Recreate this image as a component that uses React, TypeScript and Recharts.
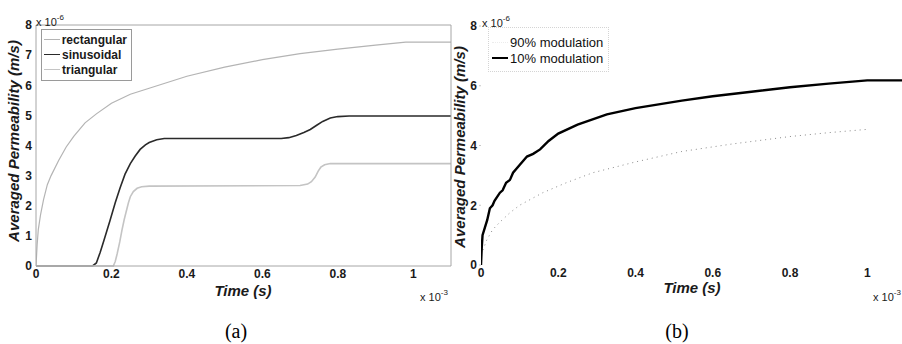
import React from 'react';
import { LineChart, Line, XAxis, YAxis, Legend } from 'recharts';

// panel (a): time in 1e-3 s, permeability in 1e-6 m/s
const rectangularX = [0, 0.003, 0.006, 0.012, 0.02, 0.03, 0.04, 0.06, 0.08, 0.1, 0.13, 0.16, 0.2, 0.25, 0.3, 0.4, 0.5, 0.6, 0.7, 0.8, 0.9, 0.98, 1.1];
const rectangularY = [0, 0.7, 1.2, 1.7, 2.2, 2.7, 3.0, 3.5, 3.95, 4.3, 4.75, 5.05, 5.4, 5.7, 5.9, 6.3, 6.6, 6.85, 7.05, 7.2, 7.33, 7.43, 7.43];

const sinusoidalX = [0, 0.15, 0.16, 0.17, 0.18, 0.196, 0.21, 0.223, 0.236, 0.25, 0.263, 0.276, 0.29, 0.3, 0.32, 0.34, 0.65, 0.67, 0.69, 0.71, 0.727, 0.745, 0.76, 0.78, 0.8, 0.83, 1.1];
const sinusoidalY = [0, 0, 0.1, 0.45, 0.85, 1.5, 2.1, 2.6, 3.05, 3.4, 3.65, 3.87, 4.02, 4.1, 4.19, 4.23, 4.23, 4.26, 4.33, 4.43, 4.53, 4.68, 4.8, 4.91, 4.96, 4.98, 4.98];

const triangularX = [0, 0.205, 0.21, 0.215, 0.222, 0.228, 0.234, 0.239, 0.245, 0.25, 0.258, 0.268, 0.28, 0.3, 0.7, 0.72, 0.73, 0.74, 0.748, 0.755, 0.765, 0.78, 1.1];
const triangularY = [0, 0, 0.15, 0.4, 0.8, 1.2, 1.55, 1.8, 2.1, 2.3, 2.47, 2.58, 2.63, 2.65, 2.67, 2.72, 2.8, 2.95, 3.15, 3.28, 3.36, 3.4, 3.4];

// panel (b)
const mod10X = [0, 0.002, 0.004, 0.01, 0.016, 0.023, 0.03, 0.035, 0.049, 0.056, 0.065, 0.075, 0.083, 0.1, 0.119, 0.135, 0.153, 0.175, 0.2, 0.25, 0.326, 0.4, 0.52, 0.6, 0.7, 0.8, 0.9, 1.0, 1.09];
const mod10Y = [0, 0.6, 1.0, 1.25, 1.5, 1.9, 2.0, 2.15, 2.42, 2.5, 2.75, 2.85, 3.09, 3.35, 3.63, 3.72, 3.87, 4.15, 4.4, 4.7, 5.04, 5.25, 5.5, 5.65, 5.8, 5.95, 6.07, 6.18, 6.18];

const mod90X = [0.005, 0.015, 0.03, 0.05, 0.075, 0.1, 0.16, 0.22, 0.29, 0.4, 0.52, 0.65, 0.8, 0.9, 1.0];
const mod90Y = [0.5, 0.84, 1.18, 1.45, 1.75, 2.0, 2.42, 2.75, 3.09, 3.45, 3.8, 4.05, 4.3, 4.43, 4.54];

const yTicks = [0, 1, 2, 3, 4, 5, 6, 7, 8];
const yTicksB = [0, 2, 4, 6, 8];
const xTicks = [0, 0.2, 0.4, 0.6, 0.8, 1];

const toPoints = (xs: number[], ys: number[]) => xs.map((x, i) => ({ t: x, v: ys[i] }));

const seriesA = [
    { name: 'rectangular', data: toPoints(rectangularX, rectangularY), color: '#b4b4b4', width: 1.2 },
    { name: 'sinusoidal', data: toPoints(sinusoidalX, sinusoidalY), color: '#2a2a2a', width: 1.6 },
    { name: 'triangular', data: toPoints(triangularX, triangularY), color: '#c4c4c4', width: 1.6 },
];

const seriesB = [
    { name: '90% modulation', data: toPoints(mod90X, mod90Y), color: '#8a8a8a', width: 1, dash: '1 4' },
    { name: '10% modulation', data: toPoints(mod10X, mod10Y), color: '#000000', width: 2.4, dash: undefined },
];

const SANS = '"Liberation Sans", Arial, sans-serif';
const tickStyle = { fontSize: 12, fontWeight: 700, fill: '#1a1a1a', fontFamily: SANS };
const boxColor = '#a6a6a6';

const abs = (left: number, top: number, extra: React.CSSProperties = {}): React.CSSProperties => ({
    position: 'absolute',
    left,
    top,
    fontFamily: SANS,
    color: '#1a1a1a',
    whiteSpace: 'nowrap',
    ...extra,
});

const Exponent = ({ left, top, exp }: { left: number; top: number; exp: string }) => (
    <div style={abs(left, top, { fontSize: 11, lineHeight: '12px' })}>
        x 10<sup style={{ fontSize: 8, verticalAlign: 6 }}>{exp}</sup>
    </div>
);

const axisTitle: React.CSSProperties = { fontSize: 15, fontWeight: 700, fontStyle: 'italic' };

const App = () => {
    return (
        <div style={{ position: 'absolute', left: 0, top: 0, width: 902, height: 344, background: '#fff', overflow: 'hidden' }}>
            {/* (a) */}
            <div style={{ position: 'absolute', left: 0, top: 0 }}>
                <LineChart width={460} height={344} margin={{ top: 25, right: 9, bottom: 58, left: 0 }}>
                    <XAxis dataKey="t" type="number" domain={[0, 1.1]} ticks={xTicks} allowDataOverflow
                        tick={tickStyle} tickLine={false} tickSize={0} tickMargin={3} height={20}
                        axisLine={{ stroke: boxColor }} />
                    <XAxis xAxisId="top" orientation="top" type="number" domain={[0, 1.1]} ticks={xTicks}
                        height={1} mirror tick={false} tickSize={4} tickLine={{ stroke: boxColor }} axisLine={{ stroke: boxColor }} />
                    <YAxis type="number" domain={[0, 8]} ticks={yTicks} width={36}
                        tick={tickStyle} tickLine={false} tickSize={0} tickMargin={4} axisLine={{ stroke: boxColor }} />
                    <YAxis yAxisId="right" orientation="right" type="number" domain={[0, 8]} ticks={yTicks}
                        width={1} mirror tick={false} tickSize={4} tickLine={{ stroke: boxColor }} axisLine={{ stroke: boxColor }} />
                    <Legend
                        layout="horizontal"
                        verticalAlign="middle"
                        align="center"
                        wrapperStyle={{ left: 41, top: 29, width: 'auto' }}
                        content={() => (
                            <div style={{ border: '1px solid #9a9a9a', background: '#fff', padding: '2px 4px 3px 2px', width: 83 }}>
                                {seriesA.map(s => (
                                    <div key={s.name} style={{ display: 'flex', alignItems: 'center', height: 15, fontFamily: SANS, fontSize: 12, fontWeight: 700, color: '#1a1a1a', whiteSpace: 'nowrap' }}>
                                        <span style={{ display: 'inline-block', width: 16, borderTop: `${s.width}px solid ${s.color}`, marginRight: 2 }} />
                                        {s.name}
                                    </div>
                                ))}
                            </div>
                        )}
                    />
                    {seriesA.map(s => (
                        <Line key={s.name} data={s.data} dataKey="v" name={s.name} type="linear"
                            stroke={s.color} strokeWidth={s.width} dot={false} activeDot={false} isAnimationActive={false} />
                    ))}
                </LineChart>
            </div>

            {/* (b) */}
            <div style={{ position: 'absolute', left: 440, top: 0 }}>
                <LineChart width={462} height={344} margin={{ top: 26, right: 0, bottom: 59, left: 0 }}>
                    <XAxis dataKey="t" type="number" domain={[0, 1.09]} ticks={xTicks} allowDataOverflow
                        tick={tickStyle} tickLine={false} tickSize={0} tickMargin={3} height={20} axisLine={false} />
                    <XAxis xAxisId="top" orientation="top" type="number" domain={[0, 1.09]} ticks={xTicks}
                        height={1} mirror tick={false} tickSize={1.5} tickLine={{ stroke: '#bdbdbd' }} axisLine={false} />
                    <YAxis type="number" domain={[0, 8]} ticks={yTicksB} width={41}
                        tick={tickStyle} tickLine={{ stroke: '#c8c8c8' }} tickSize={2} tickMargin={2} axisLine={false} />
                    <Legend
                        layout="horizontal"
                        verticalAlign="middle"
                        align="center"
                        wrapperStyle={{ left: 48, top: 27, width: 'auto' }}
                        content={() => (
                            <div style={{ border: '1px dotted #d4d4d4', padding: '6px 6px 5px 3px', width: 110 }}>
                                {seriesB.map(s => (
                                    <div key={s.name} style={{ display: 'flex', alignItems: 'center', height: 16, fontFamily: SANS, fontSize: 13, color: '#111', whiteSpace: 'nowrap' }}>
                                        <span style={{ display: 'inline-block', flex: 'none', width: 16, borderTop: s.dash ? '1px dotted #ececec' : `2px solid ${s.color}`, marginRight: 2 }} />
                                        {s.name}
                                    </div>
                                ))}
                            </div>
                        )}
                    />
                    {seriesB.map(s => (
                        <Line key={s.name} data={s.data} dataKey="v" name={s.name} type="linear"
                            stroke={s.color} strokeWidth={s.width} strokeDasharray={s.dash} dot={false} activeDot={false} isAnimationActive={false} />
                    ))}
                </LineChart>
            </div>

            {/* axis titles and multipliers */}
            <Exponent left={36} top={12} exp="-6" />
            <Exponent left={420} top={287} exp="-3" />
            <Exponent left={482} top={13} exp="-6" />
            <Exponent left={873} top={287} exp="-3" />

            <div style={abs(13, 141, { ...axisTitle, transform: 'translate(-50%, -50%) rotate(-90deg)' })}>Averaged Permeability (m/s)</div>
            <div style={abs(459, 147, { ...axisTitle, transform: 'translate(-50%, -50%) rotate(-90deg)' })}>Averaged Permeability (m/s)</div>
            <div style={abs(243, 290, { ...axisTitle, transform: 'translate(-50%, -50%)' })}>Time (s)</div>
            <div style={abs(692, 287, { ...axisTitle, transform: 'translate(-50%, -50%)' })}>Time (s)</div>

            <div style={abs(236, 331, { fontFamily: '"Liberation Serif", "Times New Roman", serif', fontSize: 20, color: '#000', transform: 'translate(-50%, -50%)' })}>(a)</div>
            <div style={abs(677, 331, { fontFamily: '"Liberation Serif", "Times New Roman", serif', fontSize: 20, color: '#000', transform: 'translate(-50%, -50%)' })}>(b)</div>
        </div>
    );
};

export default App;
